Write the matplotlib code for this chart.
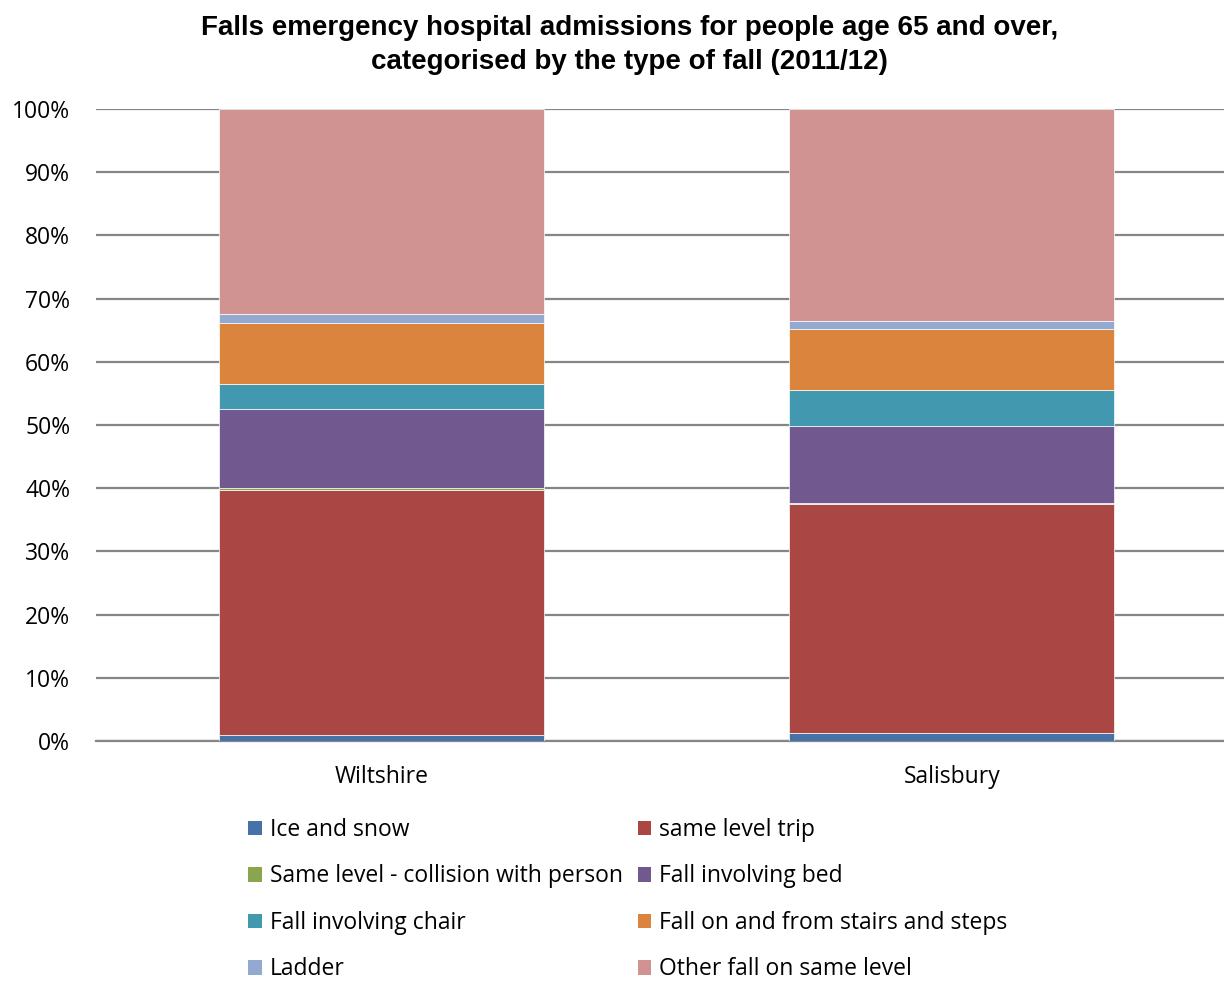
import matplotlib
matplotlib.use("Agg")
import matplotlib.pyplot as plt
from matplotlib.patches import Patch
import numpy as np

categories = ["Wiltshire", "Salisbury"]
series_names = ["Ice and snow", "same level trip", "Same level - collision with person",
                "Fall involving bed", "Fall involving chair", "Fall on and from stairs and steps",
                "Ladder", "Other fall on same level"]
ice_snow = [0.95, 1.2]
same_level_trip = [38.7, 36.35]
collision_person = [0.35, 0.05]
involving_bed = [12.55, 12.3]
involving_chair = [3.95, 5.65]
stairs_steps = [9.6, 9.6]
ladder = [1.5, 1.25]
other_same_level = [32.4, 33.6]
series_values = [ice_snow, same_level_trip, collision_person, involving_bed,
                 involving_chair, stairs_steps, ladder, other_same_level]
colors = ["#4572A7", "#AA4643", "#89A54E", "#71588F", "#4198AF", "#DB843D", "#93A9CF", "#D19392"]
ytick_labels = ["0%", "10%", "20%", "30%", "40%", "50%", "60%", "70%", "80%", "90%", "100%"]

W, H = 1224, 985
fig = plt.figure(figsize=(W / 100, H / 100), dpi=100)
ax_left, ax_right, ax_top, ax_bottom = 96, 96 + 2 * 570.5, 109, 741
ax = fig.add_axes([ax_left / W, 1 - ax_bottom / H, (ax_right - ax_left) / W, (ax_bottom - ax_top) / H])

label_font = "Open Sans"
fs = 16.5
x = np.arange(len(categories))
bottom = np.zeros(len(categories))
for name, vals, c in zip(series_names, series_values, colors):
    v = np.array(vals)
    ax.bar(x, v, width=0.57, bottom=bottom, color=c, edgecolor="white", linewidth=0.5, zorder=3)
    bottom += v

ax.set_xlim(-0.5, 1.5)
ax.set_ylim(0, 100)
ax.set_yticks(np.arange(0, 101, 10))
ax.set_yticklabels(ytick_labels, family=label_font, fontsize=fs)
ax.set_xticks(x)
ax.set_xticklabels(categories, family=label_font, fontsize=fs)
ax.tick_params(axis="both", length=0)
ax.tick_params(axis="y", pad=18.5)
ax.tick_params(axis="x", pad=17.5)
ax.yaxis.grid(True, color="#868686", linewidth=1.6, zorder=0)
ax.set_axisbelow(True)
for s in ["top", "right", "left"]:
    ax.spines[s].set_visible(False)
ax.spines["bottom"].set_color("#868686")
ax.spines["bottom"].set_linewidth(1.6)

fig.text(629.5 / W, 1 - 45 / H,
         "Falls emergency hospital admissions for people age 65 and over,\ncategorised by the type of fall (2011/12)",
         ha="center", va="center", fontsize=20, fontweight="bold", family="Liberation Sans", linespacing=1.38)

# legend: reorder so rows read left-to-right
order = [0, 2, 4, 6, 1, 3, 5, 7]
handles = [Patch(facecolor=colors[i], edgecolor="none") for i in order]
labels = [series_names[i] for i in order]
fig.legend(handles, labels, ncol=2, loc="upper left",
           bbox_to_anchor=(248 / W, 1 - 818 / H), frameon=False,
           prop={"family": label_font, "size": fs},
           handlelength=0.6, handleheight=0.6, handletextpad=0.35,
           columnspacing=0.65, labelspacing=0.98, borderaxespad=0, borderpad=0)

fig.savefig("out.png", dpi=100)
